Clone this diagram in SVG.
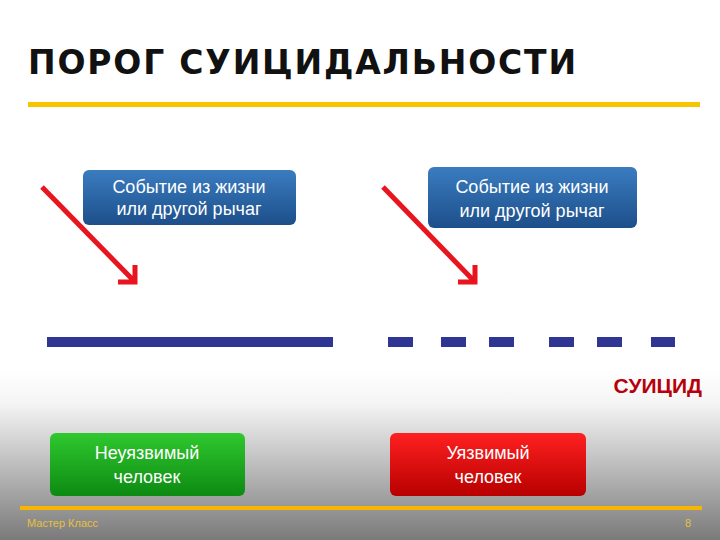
<svg xmlns="http://www.w3.org/2000/svg" width="720" height="540" viewBox="0 0 720 540">
<defs>
<linearGradient id="bg" x1="0" y1="0" x2="0" y2="1"><stop offset="0" stop-color="#ffffff"/><stop offset="0.2" stop-color="#f4f4f4"/><stop offset="1" stop-color="#7a7a7a"/></linearGradient>
<linearGradient id="blue" x1="0" y1="0" x2="0" y2="1"><stop offset="0" stop-color="#3a7cc0"/><stop offset="1" stop-color="#1d4f8a"/></linearGradient>
<linearGradient id="green" x1="0" y1="0" x2="0" y2="1"><stop offset="0" stop-color="#2fc82f"/><stop offset="1" stop-color="#0d8a12"/></linearGradient>
<linearGradient id="red" x1="0" y1="0" x2="0" y2="1"><stop offset="0" stop-color="#ff2020"/><stop offset="1" stop-color="#b80000"/></linearGradient>
</defs>
<style>
.bt{font-family:"Liberation Sans",Arial,sans-serif;font-size:18px;fill:#fff;text-anchor:middle}
.ar{stroke:#e8141e;stroke-width:5;fill:none}
.dash{fill:#2e3592}
</style>
<rect width="720" height="540" fill="#fff"/>
<rect y="370" width="720" height="170" fill="url(#bg)"/>
<text x="28" y="74" font-family="'DejaVu Sans',sans-serif" font-weight="bold" font-size="33" letter-spacing="2" fill="#111" textLength="550">ПОРОГ СУИЦИДАЛЬНОСТИ</text>
<rect x="28" y="102" width="672" height="5" fill="#f7c500"/>
<g id="event1"><rect x="83" y="170" width="213" height="55" rx="6" fill="url(#blue)"/>
<text class="bt" x="189" y="193">Событие из жизни</text><text class="bt" x="189" y="215">или другой рычаг</text></g>
<g id="event2"><rect x="428" y="167" width="209" height="61" rx="6" fill="url(#blue)"/>
<text class="bt" x="532" y="193" font-size="19">Событие из жизни</text><text class="bt" x="532" y="217" font-size="19">или другой рычаг</text></g>
<g id="connectors">
<path class="ar" d="M42 187 L135 282 M118 282 H135 V265"/>
<path class="ar" d="M383 187 L475 282 M458 282 H475 V265"/>
</g>
<g id="threshold">
<rect class="dash" x="47" y="337" width="286" height="10"/>
<rect class="dash" x="388" y="337" width="25" height="10"/>
<rect class="dash" x="441" y="337" width="25" height="10"/>
<rect class="dash" x="489" y="337" width="25" height="10"/>
<rect class="dash" x="549" y="337" width="25" height="10"/>
<rect class="dash" x="597" y="337" width="25" height="10"/>
<rect class="dash" x="651" y="337" width="24" height="10"/>
</g>
<text x="702" y="393" text-anchor="end" font-family="'Liberation Sans',Arial,sans-serif" font-weight="bold" font-size="21" fill="#b8000a">СУИЦИД</text>
<g id="invulnerable"><rect x="50" y="433" width="195" height="63" rx="6" fill="url(#green)"/>
<text class="bt" x="147" y="459">Неуязвимый</text><text class="bt" x="147" y="483">человек</text></g>
<g id="vulnerable"><rect x="390" y="433" width="196" height="63" rx="6" fill="url(#red)"/>
<text class="bt" x="488" y="459">Уязвимый</text><text class="bt" x="488" y="483">человек</text></g>
<rect x="20" y="506" width="682" height="4" fill="#f7b500"/>
<text x="27" y="527" font-family="'Liberation Sans',Arial,sans-serif" font-size="11" fill="#e8c040">Мастер Класс</text>
<text x="691" y="527" text-anchor="end" font-family="'Liberation Sans',Arial,sans-serif" font-size="11" fill="#e8c040">8</text>
</svg>
